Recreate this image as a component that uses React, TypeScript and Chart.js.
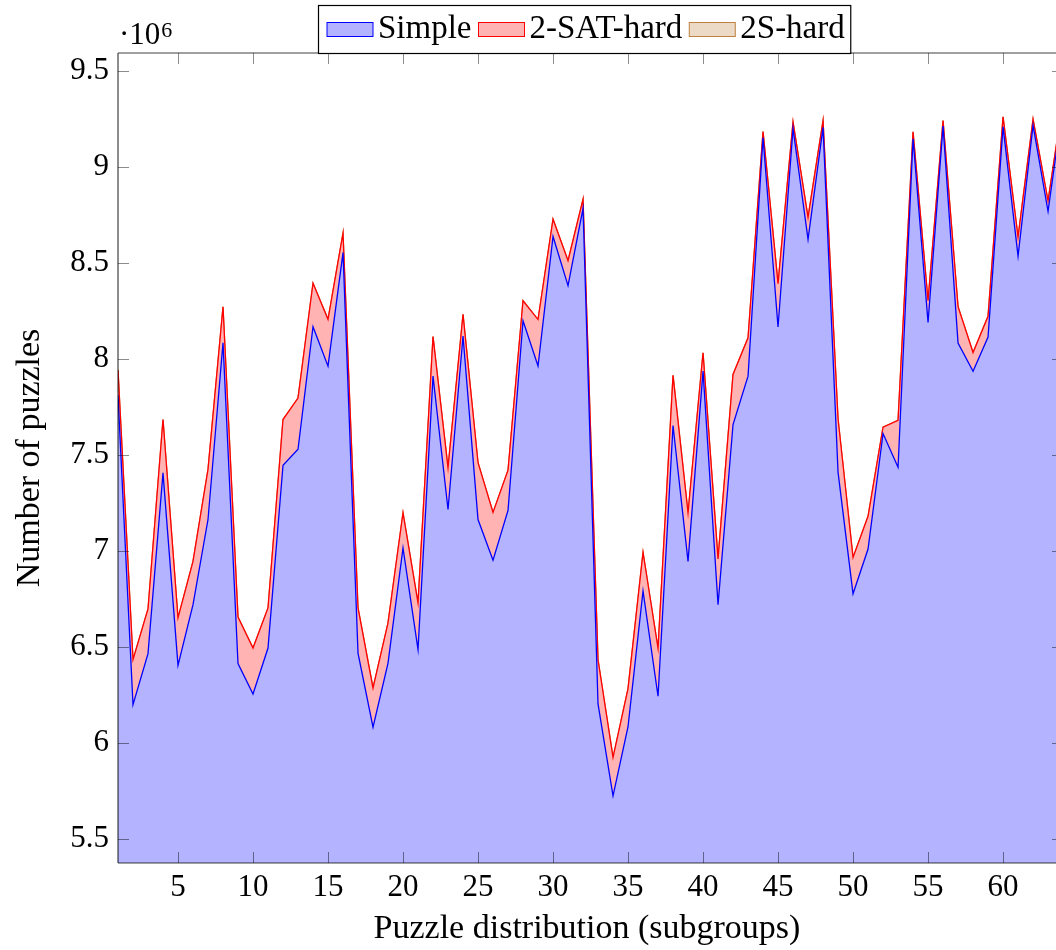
import React, { useEffect, useRef } from "react";
import { Chart, registerables } from "chart.js";

Chart.register(...registerables);

// Values are in units of 10^6 puzzles (the axis shows "·10^6").
const SUBGROUPS = [
  1, 2, 3, 4, 5, 6, 7, 8, 9, 10, 11, 12, 13, 14, 15, 16,
  17, 18, 19, 20, 21, 22, 23, 24, 25, 26, 27, 28, 29, 30, 31, 32,
  33, 34, 35, 36, 37, 38, 39, 40, 41, 42, 43, 44, 45, 46, 47, 48,
  49, 50, 51, 52, 53, 54, 55, 56, 57, 58, 59, 60, 61, 62, 63, 64,
];

const SIMPLE = [
  7.81, 6.199, 6.465, 7.407, 6.404, 6.72, 7.164, 8.085,
  6.413, 6.255, 6.494, 7.447, 7.53, 8.169, 7.963, 8.555,
  6.468, 6.082, 6.416, 7.016, 6.486, 7.911, 7.216, 8.12,
  7.164, 6.952, 7.211, 8.2, 7.964, 8.639, 8.383, 8.785,
  6.203, 5.724, 6.084, 6.792, 6.243, 7.654, 6.946, 7.937,
  6.72, 7.659, 7.911, 9.155, 8.167, 9.202, 8.624, 9.207,
  7.411, 6.777, 7.01, 7.612, 7.436, 9.148, 8.191, 9.214,
  8.083, 7.936, 8.115, 9.211, 8.537, 9.218, 8.77, 9.33,
];

const TWO_SAT_HARD = [
  0.133, 0.234, 0.233, 0.278, 0.247, 0.226, 0.261, 0.188,
  0.243, 0.239, 0.209, 0.238, 0.267, 0.226, 0.244, 0.101,
  0.235, 0.204, 0.209, 0.183, 0.243, 0.206, 0.217, 0.113,
  0.296, 0.249, 0.21, 0.104, 0.242, 0.09, 0.13, 0.048,
  0.23, 0.2, 0.199, 0.2, 0.25, 0.261, 0.253, 0.096,
  0.239, 0.261, 0.2, 0.031, 0.226, 0.034, 0.114, 0.035,
  0.278, 0.189, 0.171, 0.033, 0.245, 0.036, 0.113, 0.029,
  0.19, 0.098, 0.108, 0.051, 0.099, 0.032, 0.055, 0.02,
];

const TWO_S_HARD = [
  0, 0, 0, 0, 0, 0, 0, 0, 0, 0, 0, 0, 0, 0, 0, 0,
  0, 0, 0, 0, 0, 0, 0, 0, 0, 0, 0, 0, 0, 0, 0, 0,
  0, 0, 0, 0, 0, 0, 0, 0, 0, 0, 0, 0, 0, 0, 0, 0,
  0, 0, 0, 0, 0, 0, 0, 0, 0, 0, 0, 0, 0, 0, 0, 0,
];

const SERIES_LABELS = ["Simple", "2-SAT-hard", "2S-hard"];
const X_TICKS = [5, 10, 15, 20, 25, 30, 35, 40, 45, 50, 55, 60];
const Y_TICKS = [5.5, 6, 6.5, 7, 7.5, 8, 8.5, 9, 9.5];
const X_MIN = 1;
const X_MAX = 64;
const X_MAX_VISIBLE = 63.53; // the picture is cut at the right edge
const Y_MIN = 5.374;
const Y_MAX = 9.595;

const FONT = '"Liberation Serif", "DejaVu Serif", serif';

const decorPlugin = {
  id: "decor",
  afterDraw(chart: any) {
    const ctx = chart.ctx;
    const area = chart.chartArea;
    const xs = chart.scales.x;
    const ys = chart.scales.y;
    const rightX = xs.getPixelForValue(X_MAX);
    ctx.save();

    // tick marks (inward, on all sides)
    ctx.strokeStyle = "rgba(0,0,0,0.45)";
    ctx.lineWidth = 1;
    const tl = 11;
    ctx.beginPath();
    for (const v of X_TICKS) {
      const px = Math.round(xs.getPixelForValue(v)) + 0.5;
      ctx.moveTo(px, area.bottom);
      ctx.lineTo(px, area.bottom - tl);
      ctx.moveTo(px, area.top);
      ctx.lineTo(px, area.top + tl);
    }
    for (const v of Y_TICKS) {
      const py = Math.round(ys.getPixelForValue(v)) + 0.5;
      ctx.moveTo(area.left, py);
      ctx.lineTo(area.left + tl, py);
      ctx.moveTo(rightX, py);
      ctx.lineTo(rightX - tl, py);
    }
    ctx.stroke();

    // frame
    ctx.strokeStyle = "rgba(0,0,0,0.75)";
    ctx.lineWidth = 1.2;
    ctx.beginPath();
    ctx.moveTo(area.left, area.top);
    ctx.lineTo(rightX, area.top);
    ctx.moveTo(area.left, area.top);
    ctx.lineTo(area.left, area.bottom);
    ctx.moveTo(area.left, area.bottom);
    ctx.lineTo(rightX, area.bottom);
    ctx.moveTo(rightX, area.top);
    ctx.lineTo(rightX, area.bottom);
    ctx.stroke();

    // exponent label
    ctx.fillStyle = "#000";
    ctx.textBaseline = "alphabetic";
    ctx.textAlign = "left";
    ctx.font = `31px ${FONT}`;
    const base = "\u00B710";
    ctx.fillText(base, 119, 43.5);
    const bw = ctx.measureText(base).width;
    ctx.font = `22px ${FONT}`;
    ctx.fillText("6", 119 + bw + 1, 36.5);

    // legend
    const datasets = chart.data.datasets;
    ctx.font = `33px ${FONT}`;
    const sw = 46, sh = 14, gapST = 5, gapTS = 7, padL = 8.5, padR = 6;
    const widths = datasets.map((d: any) => ctx.measureText(d.label).width);
    let total = padL + padR;
    widths.forEach((w: number, i: number) => {
      total += sw + gapST + w + (i > 0 ? gapTS : 0);
    });
    const cx = 584.5;
    const left = Math.round(cx - total / 2) + 0.5;
    const top = 5.5, bottom = 53.5;
    ctx.fillStyle = "#fff";
    ctx.fillRect(left, top, total, bottom - top);
    ctx.strokeStyle = "#000";
    ctx.lineWidth = 1.2;
    ctx.strokeRect(left, top, total, bottom - top);
    let x = left + padL;
    datasets.forEach((d: any, i: number) => {
      if (i > 0) x += gapTS;
      ctx.fillStyle = d.backgroundColor;
      ctx.fillRect(x, 22.5, sw, sh);
      ctx.strokeStyle = d.borderColor;
      ctx.lineWidth = 1;
      ctx.strokeRect(x, 22.5, sw, sh);
      x += sw + gapST;
      ctx.fillStyle = "#000";
      ctx.fillText(d.label, x, 38);
      x += widths[i];
    });

    ctx.restore();
  },
};

export default function App() {
  const ref = useRef<HTMLCanvasElement | null>(null);

  useEffect(() => {
    let chart: any = null;
    let cancelled = false;
    const pts = (arr: number[]) => arr.map((v, i) => ({ x: SUBGROUPS[i], y: v }));

    const build = () => {
      if (cancelled || !ref.current) return;
      chart = new Chart(ref.current, {
        type: "line",
        data: {
          datasets: [
            {
              label: SERIES_LABELS[0],
              data: pts(SIMPLE),
              borderColor: "#0000ff",
              backgroundColor: "#b3b3ff",
              borderWidth: 1.3,
              fill: "start",
              pointRadius: 0,
              tension: 0,
            },
            {
              label: SERIES_LABELS[1],
              data: pts(TWO_SAT_HARD),
              borderColor: "#ff0000",
              backgroundColor: "#ffb3b3",
              borderWidth: 1.3,
              fill: "-1",
              pointRadius: 0,
              tension: 0,
            },
            {
              label: SERIES_LABELS[2],
              data: pts(TWO_S_HARD),
              borderColor: "#bf8040",
              backgroundColor: "#ecd9c6",
              borderWidth: 1.3,
              fill: "-1",
              pointRadius: 0,
              tension: 0,
            },
          ],
        },
        options: {
          responsive: false,
          animation: false,
          devicePixelRatio: 1,
          layout: { padding: { top: 53, left: 0, right: 0, bottom: 0 } },
          plugins: { legend: { display: false }, tooltip: { enabled: false } },
          scales: {
            x: {
              type: "linear",
              min: X_MIN,
              max: X_MAX_VISIBLE,
              grid: { display: false, drawTicks: false },
              border: { display: false },
              afterBuildTicks: (axis: any) => {
                axis.ticks = X_TICKS.map((v) => ({ value: v }));
              },
              ticks: {
                font: { family: FONT, size: 31 },
                color: "#000",
                padding: 6,
                maxRotation: 0,
                autoSkip: false,
                callback: (v: any) => String(v),
              },
              title: {
                display: true,
                text: "Puzzle distribution (subgroups)",
                font: { family: FONT, size: 34 },
                color: "#000",
                padding: { top: 0, bottom: 1 },
              },
              afterFit: (s: any) => {
                s.height = 87;
                s.paddingLeft = 0;
                s.paddingRight = 0;
              },
            },
            y: {
              type: "linear",
              stacked: true,
              min: Y_MIN,
              max: Y_MAX,
              grid: { display: false, drawTicks: false },
              border: { display: false },
              afterBuildTicks: (axis: any) => {
                axis.ticks = Y_TICKS.map((v) => ({ value: v }));
              },
              ticks: {
                font: { family: FONT, size: 31 },
                color: "#000",
                padding: 9,
                autoSkip: false,
                callback: (v: any) => String(v),
              },
              title: {
                display: true,
                text: "Number of puzzles",
                font: { family: FONT, size: 34 },
                color: "#000",
                padding: { top: 10, bottom: 0 },
              },
              afterFit: (s: any) => {
                s.width = 118;
                s.paddingTop = 0;
                s.paddingBottom = 0;
              },
            },
          },
        },
        plugins: [decorPlugin],
      } as any);
    };

    const fonts: any = (document as any).fonts;
    if (fonts && fonts.load) {
      Promise.all([
        fonts.load('31px "Liberation Serif"', "0123456789.Simple"),
      ])
        .catch(() => null)
        .then(() => build());
    } else {
      build();
    }

    return () => {
      cancelled = true;
      if (chart) chart.destroy();
    };
  }, []);

  return (
    <div style={{ position: "absolute", left: 0, top: 0, width: 1056, height: 950, background: "#fff" }}>
      <canvas ref={ref} width={1056} height={950} style={{ display: "block" }} />
    </div>
  );
}
